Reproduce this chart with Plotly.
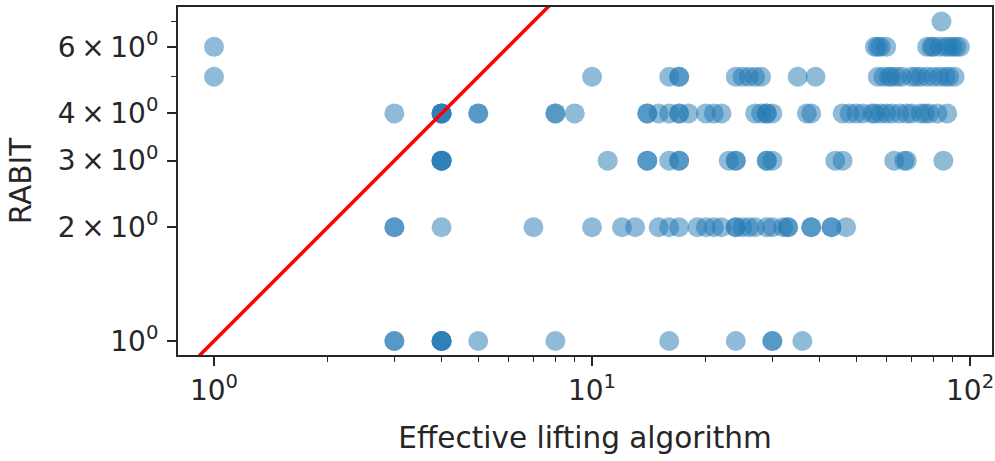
import plotly.graph_objects as go

# Effective lifting algorithm (x) values grouped by RABIT (y) value
x_rabit1 = [3, 3, 4, 4, 4, 4, 5, 8, 16, 24, 30, 30, 36]
x_rabit2 = [3, 3, 4, 7, 10, 12, 13, 15, 16, 17, 19, 20, 21, 22, 24, 24, 25, 26, 27,
            29, 30, 32, 33, 33, 38, 38, 43, 43, 47]
x_rabit3 = [4, 4, 4, 4, 11, 14, 14, 16, 17, 17, 23, 24, 24, 29, 29, 30, 44, 46, 63,
            67, 68, 85]
x_rabit4 = [3, 4, 4, 4, 4, 5, 5, 8, 8, 9, 14, 14, 15, 16, 17, 17, 18, 20, 21, 22, 27,
            28, 29, 29, 30, 37, 38, 46, 48, 50, 52, 55, 56, 58, 60, 62, 65, 68, 70,
            74, 76, 78, 82, 87]
x_rabit5 = [1, 10, 16, 17, 17, 24, 25, 26, 27, 28, 35, 39, 57, 59, 61, 62, 64, 66,
            70, 72, 74, 77, 80, 83, 86, 88, 91]
x_rabit6 = [1, 56, 57, 58, 60, 77, 79, 80, 83, 86, 88, 90, 92, 94]
x_rabit7 = [84]

rabit_levels = [1, 2, 3, 4, 5, 6, 7]
groups = [x_rabit1, x_rabit2, x_rabit3, x_rabit4, x_rabit5, x_rabit6, x_rabit7]

x_vals = []
y_vals = []
for level, xs in zip(rabit_levels, groups):
    x_vals.extend(xs)
    y_vals.extend([level] * len(xs))

diag = [0.5, 20]

ts = "\u2009"
y_tickvals = [1, 2, 3, 4, 6]
y_ticktext = ["10<sup>0</sup>", f"2{ts}×{ts}10<sup>0</sup>", f"3{ts}×{ts}10<sup>0</sup>",
              f"4{ts}×{ts}10<sup>0</sup>", f"6{ts}×{ts}10<sup>0</sup>"]
y_minor = [5, 7]
x_tickvals = [1, 10, 100]
x_ticktext = ["10<sup>0</sup>", "10<sup>1</sup>", "10<sup>2</sup>"]
x_minor = [2, 3, 4, 5, 6, 7, 8, 9, 20, 30, 40, 50, 60, 70, 80, 90]

fig = go.Figure()
fig.add_trace(go.Scatter(
    x=x_vals, y=y_vals, mode="markers",
    marker=dict(size=20, color="#1f77b4", opacity=0.5, line=dict(width=0)),
    showlegend=False,
))
fig.add_trace(go.Scatter(
    x=diag, y=diag, mode="lines",
    line=dict(color="red", width=3.5),
    showlegend=False,
))

txt = "#262626"
font = dict(family="DejaVu Sans", size=28, color=txt)
fig.update_layout(
    width=995, height=461,
    margin=dict(l=178, r=3, t=7, b=106),
    paper_bgcolor="white", plot_bgcolor="white",
    font=font,
    xaxis=dict(
        type="log", range=[-0.0952, 2.058], automargin=False,
        tickmode="array", tickvals=x_tickvals, ticktext=x_ticktext,
        tickfont=dict(size=28),
        ticks="outside", ticklen=9, tickwidth=1.6, tickcolor=txt,
        minor=dict(tickmode="array", tickvals=x_minor, ticks="outside",
                   ticklen=5, tickwidth=1.2, tickcolor=txt, showgrid=False),
        showgrid=False, zeroline=False,
        showline=True, linecolor=txt, linewidth=2, mirror=True,
        title=dict(text="Effective lifting algorithm", standoff=22, font=dict(size=29.5)),
    ),
    yaxis=dict(
        type="log", range=[-0.037, 0.8836], automargin=False,
        tickmode="array", tickvals=y_tickvals, ticktext=y_ticktext,
        tickfont=dict(size=28), ticklabelstandoff=3,
        ticks="outside", ticklen=9, tickwidth=1.6, tickcolor=txt,
        minor=dict(tickmode="array", tickvals=y_minor, ticks="outside",
                   ticklen=5, tickwidth=1.2, tickcolor=txt, showgrid=False),
        showgrid=False, zeroline=False,
        showline=True, linecolor=txt, linewidth=2, mirror=True,
        title=dict(text="RABIT", standoff=18, font=dict(size=29.5)),
    ),
)

fig.write_html("out.html", config={"displayModeBar": False},
               post_script="document.body.style.margin='0px';document.body.style.overflow='hidden';")
